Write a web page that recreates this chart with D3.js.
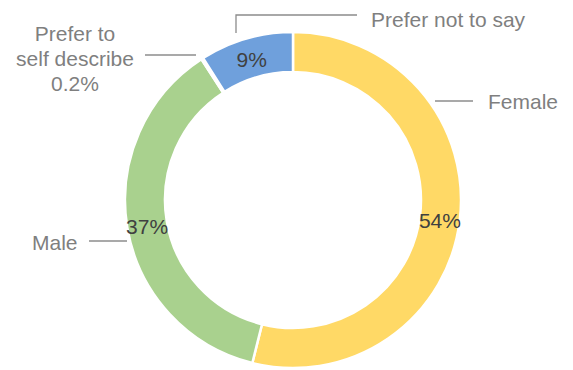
<!DOCTYPE html>
<html>
<head>
<meta charset="utf-8">
<script src="https://cdn.jsdelivr.net/npm/d3@7"></script>
<style>
  body { margin: 0; background: #fff; }
  text { font-family: Arial, "Liberation Sans", sans-serif; }
</style>
</head>
<body>
<script>
// slice order follows the reference: clockwise from 12 o'clock
const categories = ["Female", "Male", "Prefer to self describe", "Prefer not to say"];
const values = [54, 37, 0.2, 9];
const pctLabels = ["54%", "37%", "0.2%", "9%"];
const colors = ["#FFD966", "#A9D18E", "#BDD7EE", "#6FA0DC"];

const width = 573, height = 370;
const cx = 293, cy = 200, outerR = 168, innerR = 128;

const svg = d3.select("body").append("svg")
    .attr("width", width)
    .attr("height", height);

const g = svg.append("g")
    .attr("transform", "translate(" + cx + "," + cy + ")");

const pie = d3.pie().sort(null).value(function(d) { return d; });
const arcs = pie(values);

const arc = d3.arc().innerRadius(innerR).outerRadius(outerR);

g.selectAll("path")
    .data(arcs)
    .enter()
    .append("path")
    .attr("d", arc)
    .attr("fill", function(d, i) { return colors[i]; })
    .attr("stroke", "#fff")
    .attr("stroke-width", 2.5);

// percentage labels inside the ring (skip the tiny slice)
g.selectAll("text.pct")
    .data(arcs.filter(function(d, i) { return i != 2; }))
    .enter()
    .append("text")
    .attr("class", "pct")
    .attr("transform", function(d) {
        const c = arc.centroid(d);
        return "translate(" + c[0] + "," + (c[1] + 2) + ")";
    })
    .attr("text-anchor", "middle")
    .attr("dominant-baseline", "central")
    .attr("font-size", 21)
    .attr("fill", "#404040")
    .text(function(d) { return pctLabels[values.indexOf(d.value)]; });

// outer category labels with leader lines
const lineColor = "#8c8c8c", labelColor = "#7f7f7f";

function leader(points) {
    svg.append("path")
        .attr("d", d3.line()(points))
        .attr("fill", "none")
        .attr("stroke", lineColor)
        .attr("stroke-width", 1.3);
}

function label(x, y, lines, anchor) {
    const t = svg.append("text")
        .attr("x", x)
        .attr("y", y)
        .attr("text-anchor", anchor)
        .attr("font-size", 21)
        .attr("fill", labelColor);
    lines.forEach(function(s, i) {
        t.append("tspan")
            .attr("x", x)
            .attr("dy", i == 0 ? "0.35em" : 25)
            .text(s);
    });
}

// Female
leader([[cx + 142, 101], [cx + 180, 101]]);
label(488, 102, [categories[0]], "start");

// Male
leader([[cx - 204, 241], [cx - 166, 241]]);
label(32, 243, [categories[1]], "start");

// Prefer to self describe
leader([[145, 55], [196, 55]]);
label(75, 34, ["Prefer to", "self describe", pctLabels[2]], "middle");

// Prefer not to say
leader([[236, 33], [236, 15], [357, 15]]);
label(371, 20, [categories[3]], "start");
</script>
</body>
</html>
